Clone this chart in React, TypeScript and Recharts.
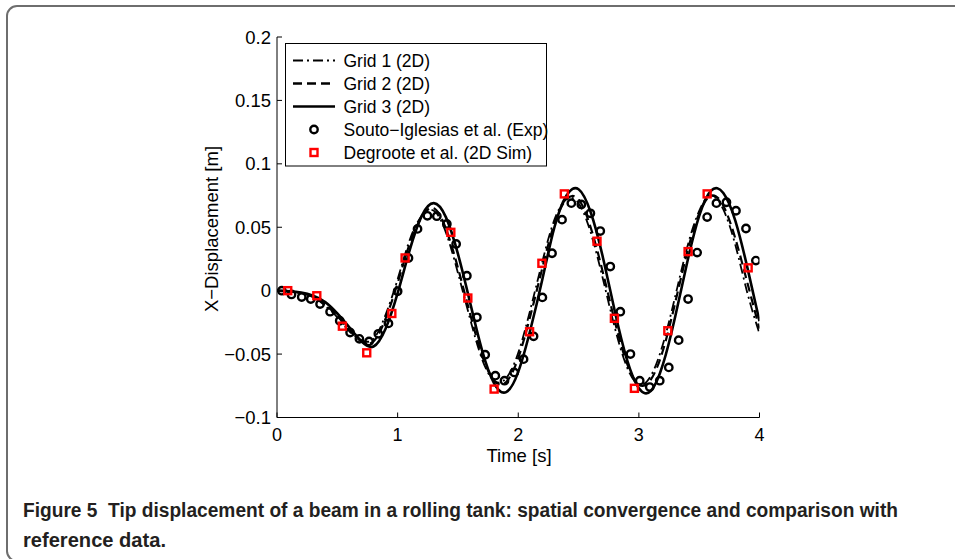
import React from 'react';
import { ComposedChart, Line, Scatter, XAxis, YAxis } from 'recharts';

// time base of the simulation curves [s]
const time = [
  0, 0.1, 0.2, 0.3, 0.4, 0.5, 0.6, 0.7, 0.8, 0.9,
  1.0, 1.1, 1.2, 1.3, 1.4, 1.5, 1.6, 1.7, 1.8, 1.9,
  2.0, 2.1, 2.2, 2.3, 2.4, 2.5, 2.6, 2.7, 2.8, 2.9,
  3.0, 3.1, 3.2, 3.3, 3.4, 3.5, 3.6, 3.7, 3.8, 3.9, 4.0,
];

// tip x-displacement [m]
const grid1 = [
  0, -0.0005, -0.002, -0.005, -0.012, -0.021, -0.032, -0.039, -0.038, -0.019,
  0.009, 0.04, 0.059, 0.063, 0.046, 0.014, -0.022, -0.054, -0.071, -0.069,
  -0.049, -0.015, 0.023, 0.056, 0.072, 0.069, 0.046, 0.01, -0.029, -0.06,
  -0.074, -0.067, -0.042, -0.005, 0.034, 0.063, 0.075, 0.064, 0.036, -0.002, -0.034,
];
const grid2 = [
  0, -0.0005, -0.002, -0.005, -0.011, -0.02, -0.031, -0.04, -0.04, -0.022,
  0.006, 0.037, 0.058, 0.065, 0.049, 0.018, -0.018, -0.051, -0.071, -0.072,
  -0.053, -0.02, 0.018, 0.053, 0.072, 0.072, 0.05, 0.015, -0.024, -0.057,
  -0.074, -0.07, -0.047, -0.01, 0.03, 0.061, 0.075, 0.067, 0.041, 0.006, -0.03,
];
const grid3 = [
  0, -0.0005, -0.0015, -0.004, -0.009, -0.018, -0.029, -0.04, -0.044, -0.03,
  -0.002, 0.032, 0.059, 0.069, 0.058, 0.029, -0.009, -0.047, -0.073, -0.08,
  -0.064, -0.031, 0.009, 0.05, 0.075, 0.08, 0.062, 0.027, -0.016, -0.054,
  -0.077, -0.079, -0.058, -0.021, 0.022, 0.059, 0.079, 0.077, 0.055, 0.018, -0.024,
];

// Souto-Iglesias et al. (Exp)
const soutoTime = [
  0.04, 0.12, 0.205, 0.28, 0.357, 0.44, 0.52, 0.606, 0.683, 0.763,
  0.84, 0.924, 1.0, 1.09, 1.165, 1.247, 1.325, 1.408, 1.485, 1.574,
  1.657, 1.726, 1.81, 1.886, 1.967, 2.044, 2.127, 2.2, 2.28, 2.363,
  2.44, 2.523, 2.598, 2.68, 2.763, 2.846, 2.93, 3.007, 3.09, 3.173,
  3.248, 3.33, 3.408, 3.483, 3.566, 3.643, 3.726, 3.805, 3.888, 3.97,
];
const soutoDisp = [
  0, -0.003, -0.005, -0.0066, -0.0105, -0.0166, -0.0237, -0.033, -0.038, -0.04,
  -0.034, -0.0258, -0.0005, 0.0258, 0.0487, 0.059, 0.0587, 0.0526, 0.0368, 0.0118,
  -0.021, -0.0505, -0.067, -0.071, -0.0645, -0.054, -0.036, -0.0053, 0.0295, 0.056,
  0.069, 0.068, 0.061, 0.047, 0.019, -0.0166, -0.05, -0.071, -0.076, -0.071,
  -0.0605, -0.039, -0.0066, 0.03, 0.058, 0.069, 0.0697, 0.063, 0.049, 0.0237,
];

// Degroote et al. (2D Sim)
const degrooteTime = [
  0.089, 0.33, 0.542, 0.744, 0.952, 1.062, 1.441, 1.582, 1.8, 2.094,
  2.196, 2.382, 2.653, 2.797, 2.963, 3.24, 3.408, 3.566, 3.906,
];
const degrooteDisp = [
  0, -0.004, -0.028, -0.049, -0.018, 0.0258, 0.046, -0.0058, -0.0776, -0.0324,
  0.0216, 0.0763, 0.039, -0.0218, -0.077, -0.0316, 0.0308, 0.0763, 0.018,
];

const xTicks = [0, 1, 2, 3, 4];
const xTickLabels = ['0', '1', '2', '3', '4'];
const yTicks = [-0.1, -0.05, 0, 0.05, 0.1, 0.15, 0.2];
const yTickLabels = ['\u22120.1', '\u22120.05', '0', '0.05', '0.1', '0.15', '0.2'];

const legendLabels = [
  'Grid 1 (2D)',
  'Grid 2 (2D)',
  'Grid 3 (2D)',
  'Souto\u2212Iglesias et al. (Exp)',
  'Degroote et al. (2D Sim)',
];

const curveData = time.map((t, i) => ({ t, g1: grid1[i], g2: grid2[i], g3: grid3[i] }));
const soutoData = soutoTime.map((t, i) => ({ t, v: soutoDisp[i] }));
const degrooteData = degrooteTime.map((t, i) => ({ t, v: degrooteDisp[i] }));

const W = 955;
const H = 559;
const PLOT_LEFT = 277;
const PLOT_RIGHT = 759.5;
const PLOT_TOP = 37;
const PLOT_BOTTOM = 417.5;
const Y_AXIS_W = 70;
const X_AXIS_H = 45;
const FONT = '"Liberation Sans", Arial, Helvetica, sans-serif';
const RED = '#ff0000';

const DASH_DOT = '10 4 2 4';
const DASHED = '9 5';

const YTick = ({ y, payload }: any) => {
  const idx = yTicks.indexOf(payload.value);
  return (
    <g>
      <line x1={PLOT_LEFT} x2={PLOT_LEFT + 5} y1={y} y2={y} stroke="#000" strokeWidth={1} />
      <text x={PLOT_LEFT - 6} y={y} dy="0.36em" textAnchor="end" fontSize={18.5} fontFamily={FONT} fill="#000">
        {yTickLabels[idx]}
      </text>
    </g>
  );
};

const XTick = ({ x, payload }: any) => {
  const idx = xTicks.indexOf(payload.value);
  return (
    <g>
      <line x1={x} x2={x} y1={PLOT_BOTTOM} y2={PLOT_BOTTOM - 5} stroke="#000" strokeWidth={1} />
      <text x={x} y={PLOT_BOTTOM + 23.5} textAnchor="middle" fontSize={18} fontFamily={FONT} fill="#000">
        {xTickLabels[idx]}
      </text>
    </g>
  );
};

const YTitle = () => (
  <text
    x={218}
    y={229}
    transform="rotate(-90 218 229)"
    textAnchor="middle"
    fontSize={18.5}
    fontFamily={FONT}
    fill="#000"
  >
    X{'\u2212'}Displacement [m]
  </text>
);

const XTitle = () => (
  <text x={519} y={461.5} textAnchor="middle" fontSize={18.5} fontFamily={FONT} fill="#000">
    Time [s]
  </text>
);

const OpenCircle = ({ cx, cy }: any) => (
  <circle cx={cx} cy={cy} r={3.7} fill="none" stroke="#000" strokeWidth={2.4} />
);

const OpenSquare = ({ cx, cy }: any) => (
  <rect x={cx - 3.5} y={cy - 3.5} width={7} height={7} fill="none" stroke={RED} strokeWidth={2.4} />
);

function LegendBox() {
  const rowY = (i: number) => 17.5 + i * 23;
  return (
    <svg
      width={263}
      height={124}
      style={{ position: 'absolute', left: 284.5, top: 43, overflow: 'visible' }}
    >
      <rect x={0.5} y={0.5} width={261} height={122.5} fill="#fff" stroke="#000" strokeWidth={1} />
      <line x1={8} x2={50} y1={rowY(0)} y2={rowY(0)} stroke="#000" strokeWidth={1.8} strokeDasharray={DASH_DOT} />
      <line x1={8} x2={50} y1={rowY(1)} y2={rowY(1)} stroke="#000" strokeWidth={2.4} strokeDasharray={DASHED} />
      <line x1={8} x2={50} y1={rowY(2)} y2={rowY(2)} stroke="#000" strokeWidth={2.5} />
      <OpenCircle cx={29} cy={rowY(3)} />
      <OpenSquare cx={29} cy={rowY(4)} />
      {legendLabels.map((label, i) => (
        <text key={label} x={58.5} y={rowY(i)} dy="0.36em" fontSize={17.5} fontFamily={FONT} fill="#000">
          {label}
        </text>
      ))}
    </svg>
  );
}

export default function App() {
  return (
    <div style={{ position: 'fixed', left: 0, top: 0, width: W, height: H, overflow: 'hidden', background: '#fff' }}>
      <div
        style={{
          position: 'absolute',
          left: 6,
          top: 5,
          width: 1100,
          height: 557,
          border: '2px solid #6e6e6e',
          borderRadius: 11,
          boxSizing: 'border-box',
        }}
      />
      <div style={{ position: 'absolute', left: 0, top: 0 }}>
        <ComposedChart
          width={W}
          height={H}
          data={curveData}
          margin={{
            top: PLOT_TOP,
            left: PLOT_LEFT - Y_AXIS_W,
            right: W - PLOT_RIGHT,
            bottom: H - PLOT_BOTTOM - X_AXIS_H,
          }}
        >
          <XAxis
            dataKey="t"
            type="number"
            domain={[0, 4]}
            ticks={xTicks}
            interval={0}
            height={X_AXIS_H}
            tickLine={false}
            tick={<XTick />}
            axisLine={{ stroke: '#000', strokeWidth: 1 }}
            allowDataOverflow
            label={<XTitle />}
          />
          <YAxis
            type="number"
            domain={[-0.1, 0.2]}
            ticks={yTicks}
            interval={0}
            width={Y_AXIS_W}
            tickLine={false}
            tick={<YTick />}
            axisLine={{ stroke: '#000', strokeWidth: 1 }}
            allowDataOverflow
            label={<YTitle />}
          />
          <Line
            dataKey="g1"
            type="natural"
            stroke="#000"
            strokeWidth={1.8}
            strokeDasharray={DASH_DOT}
            dot={false}
            activeDot={false}
            isAnimationActive={false}
          />
          <Line
            dataKey="g2"
            type="natural"
            stroke="#000"
            strokeWidth={2.2}
            strokeDasharray={DASHED}
            dot={false}
            activeDot={false}
            isAnimationActive={false}
          />
          <Line
            dataKey="g3"
            type="natural"
            stroke="#000"
            strokeWidth={2.6}
            dot={false}
            activeDot={false}
            isAnimationActive={false}
          />
          <Scatter data={soutoData} dataKey="v" shape={<OpenCircle />} isAnimationActive={false} />
          <Scatter data={degrooteData} dataKey="v" shape={<OpenSquare />} isAnimationActive={false} />
        </ComposedChart>
      </div>
      <LegendBox />
      <svg width={W} height={80} style={{ position: 'absolute', left: 0, top: 490 }}>
        <text
          x={23}
          y={27}
          textLength={875}
          lengthAdjust="spacingAndGlyphs"
          fontSize={19.5}
          fontWeight="bold"
          fontFamily={FONT}
          fill="#231f20"
        >
          Figure 5{'\u00a0\u00a0'}Tip displacement of a beam in a rolling tank: spatial convergence and comparison with
        </text>
        <text
          x={23}
          y={56.5}
          textLength={143}
          lengthAdjust="spacingAndGlyphs"
          fontSize={19.5}
          fontWeight="bold"
          fontFamily={FONT}
          fill="#231f20"
        >
          reference data.
        </text>
      </svg>
    </div>
  );
}
